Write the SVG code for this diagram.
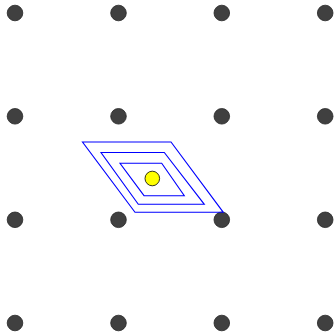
<svg xmlns="http://www.w3.org/2000/svg" width="334" height="332" viewBox="0 0 334 332">
<style>
.dot{fill:#404040;stroke:#262626;stroke-width:0.8}
.para{fill:none;stroke:#0000ff;stroke-width:1.1}
</style>
<rect width="334" height="332" fill="#fff"/>
<g id="grid">
<circle class="dot" cx="15" cy="13" r="7.8"/>
<circle class="dot" cx="118.5" cy="13" r="7.8"/>
<circle class="dot" cx="221.8" cy="13" r="7.8"/>
<circle class="dot" cx="325.2" cy="13" r="7.8"/>
<circle class="dot" cx="15" cy="116.3" r="7.8"/>
<circle class="dot" cx="118.5" cy="116.3" r="7.8"/>
<circle class="dot" cx="221.8" cy="116.3" r="7.8"/>
<circle class="dot" cx="325.2" cy="116.3" r="7.8"/>
<circle class="dot" cx="15" cy="219.8" r="7.8"/>
<circle class="dot" cx="118.5" cy="219.8" r="7.8"/>
<circle class="dot" cx="221.8" cy="219.8" r="7.8"/>
<circle class="dot" cx="325.2" cy="219.8" r="7.8"/>
<circle class="dot" cx="15" cy="323" r="7.8"/>
<circle class="dot" cx="118.5" cy="323" r="7.8"/>
<circle class="dot" cx="221.8" cy="323" r="7.8"/>
<circle class="dot" cx="325.2" cy="323" r="7.8"/>
</g>
<g id="parallelograms">
<polygon class="para" points="82.5,142 171,142 223.3,212.3 135,212.3"/>
<polygon class="para" points="101,152.5 164.3,152.5 204.3,204.3 138.3,204.3"/>
<polygon class="para" points="120,163.3 161.7,163.3 184.3,195.7 144,195.7"/>
</g>
<circle id="center" cx="152.3" cy="178.5" r="7.3" fill="#ffff00" stroke="#000" stroke-width="0.8"/>
</svg>
